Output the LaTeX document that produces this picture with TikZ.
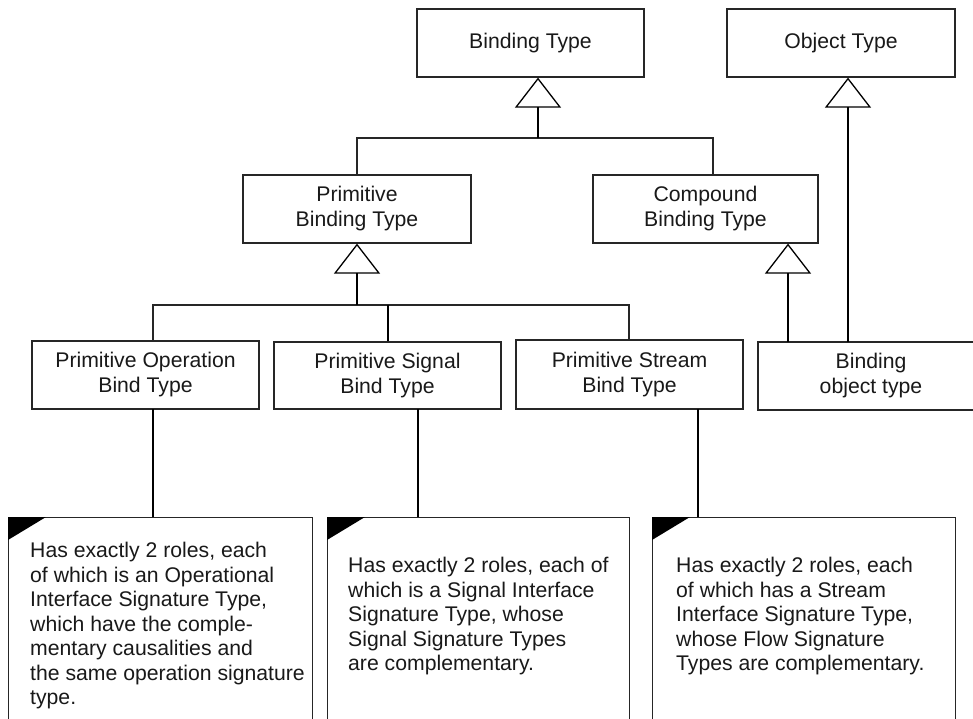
\documentclass[tikz,border=0pt]{standalone}
\usepackage{fontspec}
\setmainfont{Liberation Sans}
\usetikzlibrary{arrows.meta,calc}
\begin{document}
\begin{tikzpicture}[x=1pt,y=-1pt,
  box/.style={draw=black!85, line width=1.2pt, fill=white, inner sep=0pt, align=center,
    font=\fontsize{21.2}{25}\selectfont, text=black!90},
  thinline/.style={draw=black!85, line width=1.2pt},
  thickline/.style={draw=black, line width=2pt},
  gen/.style={thickline, -{Triangle[open, length=30pt, width=46pt, line width=1.3pt]}},
  note/.style={draw=black!85, line width=1.2pt, inner sep=0pt, fill=white},
  notetext/.style={anchor=north west, inner sep=0pt, align=left,
    font=\fontsize{21.2}{24.5}\selectfont, text=black!90}]
\clip (0,0) rectangle (973,718);
\fill[white] (0,0) rectangle (973,718);

% boxes
\node[box, minimum width=227pt, minimum height=68pt] (bt) at (530.5,43) {Binding Type};
\node[box, minimum width=228pt, minimum height=68pt] (ot) at (841,43) {Object Type};
\node[box, minimum width=228pt, minimum height=68pt] (pbt) at (357,209) {Primitive\\Binding Type};
\node[box, minimum width=225pt, minimum height=68pt] (cbt) at (705.5,209) {Compound\\Binding Type};
\node[box, minimum width=227pt, minimum height=68pt] (pobt) at (145.5,375) {Primitive Operation\\Bind Type};
\node[box, minimum width=227pt, minimum height=67pt] (psbt) at (387.5,375.5) {Primitive Signal\\Bind Type};
\node[box, minimum width=227pt, minimum height=69pt] (pstbt) at (629.5,374.5) {Primitive Stream\\Bind Type};
\node[box, minimum width=226pt, minimum height=68pt] (bot) at (871,376) {Binding\\object type};

% notes
\node[note, minimum width=304pt, minimum height=230pt, anchor=north west] (n1) at (8,517) {};
\node[note, minimum width=302pt, minimum height=230pt, anchor=north west] (n2) at (327,517) {};
\node[note, minimum width=303pt, minimum height=230pt, anchor=north west] (n3) at (652,517) {};
\foreach \n in {n1,n2,n3}{
  \fill[black] (\n.north west) -- ++(38,0) -- ++(-38,23) -- cycle;
}
\node[notetext] (t1) at (30,542) {Has exactly 2 roles, each\\of which is an Operational\\Interface Signature Type,\\which have the comple-\\mentary causalities and\\the same operation signature\\type.};
\node[notetext] (t2) at (348,557) {Has exactly 2 roles, each of\\which is a Signal Interface\\Signature Type, whose\\Signal Signature Types\\are complementary.};
\node[notetext] (t3) at (676,557) {Has exactly 2 roles, each\\of which has a Stream\\Interface Signature Type,\\whose Flow Signature\\Types are complementary.};

% generalisation: Binding Type
\coordinate (j1) at (538,138);
\coordinate (c1) at (713,175);
\draw[thinline] (pbt.north) |- (j1) -| (c1);
\draw[gen] (j1) -- (j1 |- bt.south);

% generalisation: Primitive Binding Type
\coordinate (j2) at (357,305);
\coordinate (a1) at (153,341);
\coordinate (a3) at (629,340);
\draw[thinline] (a1) |- (j2) -| (a3);
\draw[thickline] (psbt.north) -- (psbt.north |- j2);
\draw[gen] (j2) -- (j2 |- pbt.south);

% Compound and Object Type
\coordinate (b1) at (788,342);
\coordinate (b2) at (848,342);
\draw[gen] (b1) -- (b1 |- cbt.south);
\draw[gen] (b2) -- (b2 |- ot.south);

% note connectors
\coordinate (s1) at (153,409);
\coordinate (s2) at (418,409);
\coordinate (s3) at (698,409);
\draw[thickline] (s1) -- (s1 |- n1.north);
\draw[thickline] (s2) -- (s2 |- n2.north);
\draw[thickline] (s3) -- (s3 |- n3.north);
\end{tikzpicture}
\end{document}
